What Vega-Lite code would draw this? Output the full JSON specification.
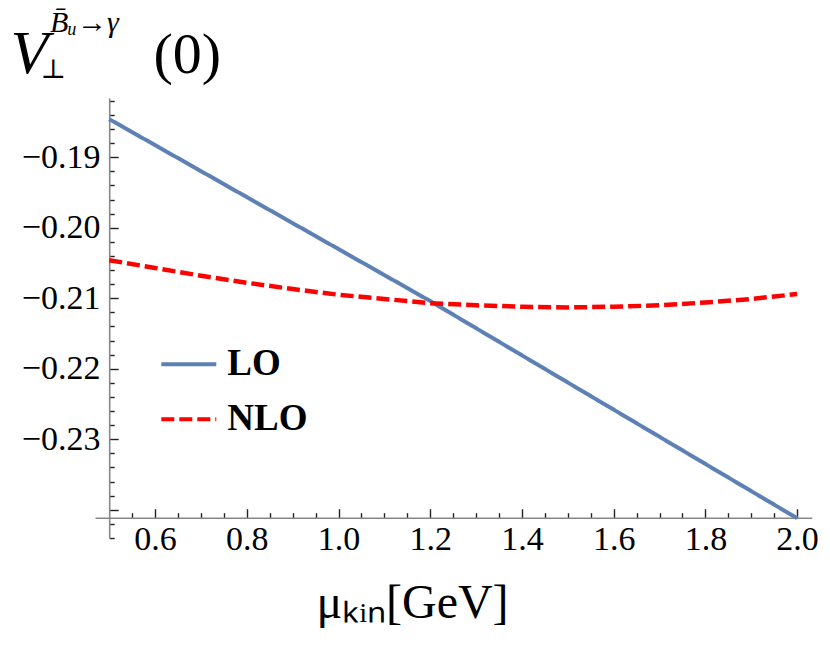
{
  "$schema": "https://vega.github.io/schema/vega-lite/v6.json",
  "width": 716.8,
  "height": 440,
  "autosize": "none",
  "padding": {"left": 95, "top": 98, "right": 18.2, "bottom": 107},
  "background": "white",
  "config": {
    "view": {"stroke": null},
    "font": "Liberation Serif"
  },
  "title": {
    "text": "B\u0304\u1d64\u2192\u03b3",
    "font": "Liberation Serif",
    "fontSize": 30,
    "fontStyle": "italic",
    "fontWeight": "normal",
    "color": "black",
    "anchor": "start",
    "frame": "group",
    "baseline": "alphabetic",
    "offset": 0,
    "dx": -45,
    "dy": 40
  },
  "data": {
    "values": [
      {"mu": 0.5, "V": -0.1846, "order": "LO"},
      {"mu": 1.2, "V": -0.2104, "order": "LO"},
      {"mu": 2.0, "V": -0.2412, "order": "LO"},
      {"mu": 0.5, "V": -0.2046, "order": "NLO"},
      {"mu": 0.6, "V": -0.2057, "order": "NLO"},
      {"mu": 0.7, "V": -0.2068, "order": "NLO"},
      {"mu": 0.8, "V": -0.2078, "order": "NLO"},
      {"mu": 0.9, "V": -0.2087, "order": "NLO"},
      {"mu": 1.0, "V": -0.2095, "order": "NLO"},
      {"mu": 1.1, "V": -0.2101, "order": "NLO"},
      {"mu": 1.2, "V": -0.2107, "order": "NLO"},
      {"mu": 1.3, "V": -0.2110, "order": "NLO"},
      {"mu": 1.4, "V": -0.2112, "order": "NLO"},
      {"mu": 1.5, "V": -0.2113, "order": "NLO"},
      {"mu": 1.6, "V": -0.2112, "order": "NLO"},
      {"mu": 1.7, "V": -0.2110, "order": "NLO"},
      {"mu": 1.8, "V": -0.2106, "order": "NLO"},
      {"mu": 1.9, "V": -0.2101, "order": "NLO"},
      {"mu": 2.0, "V": -0.2094, "order": "NLO"}
    ]
  },
  "encoding": {
    "color": {
      "field": "order",
      "type": "nominal",
      "scale": {"domain": ["LO", "NLO"], "range": ["#5E81B5", "#FF0000"]},
      "legend": {
        "orient": "none",
        "legendX": 64.3,
        "legendY": 236.8,
        "title": null,
        "padding": 0,
        "symbolType": "stroke",
        "symbolSize": 3025,
        "symbolStrokeWidth": 4,
        "labelFont": "Liberation Serif",
        "labelFontWeight": "bold",
        "labelFontSize": 37,
        "labelColor": "black",
        "labelOffset": 9,
        "rowPadding": 7
      }
    },
    "strokeDash": {
      "field": "order",
      "type": "nominal",
      "scale": {"domain": ["LO", "NLO"], "range": [[1, 0], [13, 5]]},
      "legend": {
        "orient": "none",
        "legendX": 64.3,
        "legendY": 236.8,
        "title": null,
        "padding": 0,
        "symbolType": "stroke",
        "symbolSize": 3025,
        "symbolStrokeWidth": 4,
        "labelFont": "Liberation Serif",
        "labelFontWeight": "bold",
        "labelFontSize": 37,
        "labelColor": "black",
        "labelOffset": 9,
        "rowPadding": 7
      }
    }
  },
  "layer": [
    {
      "transform": [{"filter": "datum.order == 'LO'"}],
      "mark": {"type": "line", "strokeWidth": 4},
      "encoding": {
        "x": {
          "field": "mu",
          "type": "quantitative",
          "scale": {"domain": [0.469, 2.032], "nice": false, "zero": false},
          "axis": {
            "orient": "bottom",
            "offset": -20.3,
            "values": [0.55, 0.6, 0.65, 0.7, 0.75, 0.8, 0.85, 0.9, 0.95, 1.0, 1.05, 1.1, 1.15, 1.2, 1.25, 1.3, 1.35, 1.4, 1.45, 1.5, 1.55, 1.6, 1.65, 1.7, 1.75, 1.8, 1.85, 1.9, 1.95, 2.0],
            "labelExpr": "abs(datum.value*5 - round(datum.value*5)) < 0.001 ? format(datum.value, '.1f') : ''",
            "tickSize": {"condition": {"test": "abs(datum.value*5 - round(datum.value*5)) < 0.001", "value": -9}, "value": -5},
            "tickColor": "#222222",
            "tickWidth": 1.4,
            "domainColor": "#888888",
            "domainWidth": 1.6,
            "grid": false,
            "labelFont": "Liberation Serif",
            "labelFontSize": 34,
            "labelColor": "black",
            "labelPadding": 14,
            "labelOverlap": false,
            "labelFlush": false,
            "labelBound": false,
            "title": "\u03bc\u2096\u1d62\u2099[GeV]",
            "titleFont": "Liberation Serif",
            "titleFontSize": 48,
            "titleFontWeight": "normal",
            "titleColor": "black",
            "titleAlign": "center",
            "titleBaseline": "alphabetic",
            "titleX": 317,
            "titleY": 99.3
          }
        },
        "y": {
          "field": "V",
          "type": "quantitative",
          "scale": {"domain": [-0.244, -0.1816], "nice": false, "zero": false},
          "axis": {
            "orient": "left",
            "offset": -14.2,
            "values": [-0.244, -0.242, -0.24, -0.238, -0.236, -0.234, -0.232, -0.23, -0.228, -0.226, -0.224, -0.222, -0.22, -0.218, -0.216, -0.214, -0.212, -0.21, -0.208, -0.206, -0.204, -0.202, -0.2, -0.198, -0.196, -0.194, -0.192, -0.19, -0.188, -0.186, -0.184, -0.182],
            "labelExpr": "abs(datum.value*100 - round(datum.value*100)) < 0.001 && datum.value > -0.235 ? replace(format(datum.value, '.2f'), '-', '−') : ''",
            "tickSize": {"condition": {"test": "abs(datum.value*100 - round(datum.value*100)) < 0.001", "value": -9}, "value": -5},
            "tickColor": "#222222",
            "tickWidth": 1.4,
            "domainColor": "#888888",
            "domainWidth": 1.6,
            "grid": false,
            "labelFont": "Liberation Serif",
            "labelFontSize": 34,
            "labelColor": "black",
            "labelPadding": 18.2,
            "labelOverlap": false,
            "labelFlush": false,
            "labelBound": false,
            "title": "V",
            "titleFont": "Liberation Serif",
            "titleFontSize": 62,
            "titleFontStyle": "italic",
            "titleFontWeight": "normal",
            "titleColor": "black",
            "titleAngle": 0,
            "titleAlign": "left",
            "titleBaseline": "alphabetic",
            "titleX": -99.2,
            "titleY": -26
          }
        }
      }
    },
    {
      "transform": [{"filter": "datum.order == 'NLO'"}],
      "mark": {"type": "line", "strokeWidth": 4.5},
      "encoding": {
        "x": {
          "field": "mu",
          "type": "quantitative",
          "scale": {"domain": [0.469, 2.032], "nice": false, "zero": false},
          "axis": {
            "orient": "top",
            "domain": false,
            "ticks": false,
            "labels": false,
            "grid": false,
            "title": "\u22a5",
            "titleFont": "DejaVu Serif",
            "titleFontSize": 27,
            "titleFontWeight": "normal",
            "titleColor": "black",
            "titleAlign": "left",
            "titleBaseline": "alphabetic",
            "titleX": -55,
            "titleY": -21
          }
        },
        "y": {
          "field": "V",
          "type": "quantitative",
          "scale": {"domain": [-0.244, -0.1816], "nice": false, "zero": false},
          "axis": {
            "orient": "right",
            "domain": false,
            "ticks": false,
            "labels": false,
            "grid": false,
            "title": "(0)",
            "titleFont": "Liberation Serif",
            "titleFontSize": 58,
            "titleFontWeight": "normal",
            "titleColor": "black",
            "titleAngle": 0,
            "titleAlign": "left",
            "titleBaseline": "alphabetic",
            "titleX": -658.8,
            "titleY": -26
          }
        }
      }
    }
  ],
  "resolve": {"axis": {"x": "independent", "y": "independent"}}
}
